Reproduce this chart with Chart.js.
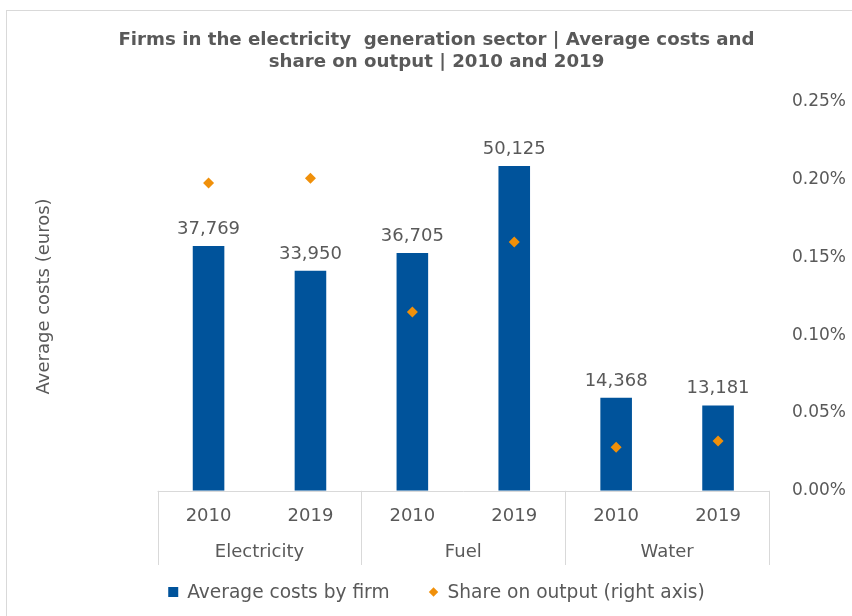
<!DOCTYPE html>
<html>
<head>
<meta charset="utf-8">
<script src="https://cdn.jsdelivr.net/npm/chart.js@4/dist/chart.umd.min.js"></script>
<style>
  html, body { margin: 0; padding: 0; background: #ffffff; }
  #frame { position: absolute; left: 6px; top: 10px; width: 846px; height: 606px;
           border-left: 1px solid #d9d9d9; border-top: 1px solid #d9d9d9; box-sizing: border-box; }
  #wrap { position: absolute; left: 0; top: 0; width: 852px; height: 616px; }
</style>
</head>
<body>
<div id="frame"></div>
<div id="wrap"><canvas id="chart" width="852" height="616"></canvas></div>
<script>
// Energy cost categories and the two reference years
const sectors = ['Electricity', 'Fuel', 'Water'];
const years = ['2010', '2019', '2010', '2019', '2010', '2019'];

// Average costs per firm (euros)
const avgCosts = [37769, 33950, 36705, 50125, 14368, 13181];

// Share of these costs on output (percent)
const shareOnOutput = [0.198, 0.201, 0.115, 0.160, 0.028, 0.032];

// Right axis tick values (percent)
const shareTicks = [0, 0.05, 0.10, 0.15, 0.20, 0.25];

const TEXT = '#595959';
const LINE = '#d9d9d9';
const FONT = 'DejaVu Sans';
const BLUE = '#00539b';
const ORANGE = '#f0900a';

// Writes the cost value above each bar
const barValueLabels = {
  id: 'barValueLabels',
  afterDatasetsDraw(chart) {
    const meta = chart.getDatasetMeta(0);
    const ctx = chart.ctx;
    ctx.save();
    ctx.font = '18px "' + FONT + '"';
    ctx.fillStyle = TEXT;
    ctx.textAlign = 'center';
    ctx.textBaseline = 'alphabetic';
    meta.data.forEach((bar, i) => {
      ctx.fillText(avgCosts[i].toLocaleString('en-US'), bar.x, bar.y - 12);
    });
    ctx.restore();
  }
};

// Separators between sector groups below the plot, plus the base line
const groupSeparators = {
  id: 'groupSeparators',
  afterDraw(chart) {
    const x = chart.scales.x;
    const x2 = chart.scales.x2;
    const ctx = chart.ctx;
    const half = (x.getPixelForValue(1) - x.getPixelForValue(0)) / 2;
    ctx.save();
    ctx.strokeStyle = LINE;
    ctx.lineWidth = 1;
    ctx.beginPath();
    ctx.moveTo(x.left, Math.round(x.top) + 0.5);
    ctx.lineTo(x.right, Math.round(x.top) + 0.5);
    for (let i = 0; i <= years.length; i += 2) {
      const px = Math.round(x.getPixelForValue(Math.min(i, years.length - 1)) + (i === years.length ? half : -half)) + 0.5;
      ctx.moveTo(px, x.top);
      ctx.lineTo(px, x2.bottom + 3);
    }
    ctx.stroke();
    ctx.restore();
  }
};

// Legend row under the axes: square for the bars, diamond for the share points
const bottomLegend = {
  id: 'bottomLegend',
  afterDraw(chart) {
    const ctx = chart.ctx;
    const sets = chart.data.datasets;
    const y = chart.scales.x2.bottom + 30;
    const markerGap = 19, itemGap = 39;
    ctx.save();
    ctx.font = '18.6px "' + FONT + '"';
    const widths = sets.map(d => ctx.measureText(d.label).width);
    const total = widths.reduce((s, w) => s + markerGap + w, 0) + itemGap * (sets.length - 1);
    let cx = (chart.width + chart.options.layout.padding.left) / 2 - total / 2;
    ctx.textBaseline = 'middle';
    ctx.textAlign = 'left';
    sets.forEach((d, i) => {
      ctx.fillStyle = d.backgroundColor;
      if (d.type === 'bar') {
        ctx.fillRect(cx, y - 5, 10, 10);
      } else {
        ctx.beginPath();
        ctx.moveTo(cx + 5, y - 4.7); ctx.lineTo(cx + 9.7, y); ctx.lineTo(cx + 5, y + 4.7); ctx.lineTo(cx + 0.3, y);
        ctx.closePath(); ctx.fill();
      }
      ctx.fillStyle = TEXT;
      ctx.fillText(d.label, cx + markerGap, y + 1);
      cx += markerGap + widths[i] + itemGap;
    });
    ctx.restore();
  }
};

new Chart(document.getElementById('chart'), {
  data: {
    labels: years,
    datasets: [
      {
        type: 'bar',
        label: 'Average costs by firm',
        data: avgCosts,
        backgroundColor: BLUE,
        yAxisID: 'y',
        xAxisID: 'x',
        categoryPercentage: 1,
        barPercentage: 0.31,
        order: 2
      },
      {
        type: 'line',
        label: 'Share on output (right axis)',
        data: shareOnOutput,
        showLine: false,
        yAxisID: 'y2',
        xAxisID: 'x',
        pointStyle: 'rectRot',
        pointRadius: 5.5,
        pointHoverRadius: 5.5,
        backgroundColor: ORANGE,
        borderColor: ORANGE,
        borderWidth: 0,
        order: 1
      }
    ]
  },
  options: {
    responsive: false,
    animation: false,
    layout: { padding: { left: 21, right: 0, top: 18, bottom: 54 } },
    plugins: {
      title: {
        display: true,
        text: ['Firms in the electricity  generation sector | Average costs and', 'share on output | 2010 and 2019'],
        color: TEXT,
        font: { family: FONT, size: 18.2, weight: 'bold', lineHeight: 1.21 },
        padding: { top: 11, bottom: 29 }
      },
      legend: { display: false },
      tooltip: { enabled: false }
    },
    scales: {
      x: {
        type: 'category',
        position: 'bottom',
        offset: true,
        weight: 1,
        grid: { display: false, drawTicks: false },
        border: { display: false },
        ticks: { color: TEXT, font: { family: FONT, size: 18 }, padding: 15 }
      },
      x2: {
        type: 'category',
        labels: sectors,
        position: 'bottom',
        offset: true,
        weight: 2,
        grid: { display: false, drawTicks: false },
        border: { display: false },
        ticks: { color: TEXT, font: { family: FONT, size: 18 }, padding: -1 }
      },
      y: {
        position: 'left',
        min: 0,
        max: 60000,
        grid: { display: false, drawTicks: false },
        border: { display: false },
        ticks: { display: false },
        title: {
          display: true,
          text: 'Average costs (euros)',
          color: TEXT,
          font: { family: FONT, size: 18 },
          padding: { top: 13, bottom: 102 }
        }
      },
      y2: {
        position: 'right',
        min: 0,
        max: 0.25,
        afterBuildTicks(scale) { scale.ticks = shareTicks.map(v => ({ value: v })); },
        afterFit(scale) { scale.width = 83; },
        grid: { display: false, drawTicks: false },
        border: { display: false },
        ticks: {
          color: TEXT,
          font: { family: FONT, size: 17 },
          padding: 23,
          callback: v => v.toFixed(2) + '%'
        }
      }
    }
  },
  plugins: [barValueLabels, groupSeparators, bottomLegend]
});
</script>
</body>
</html>
